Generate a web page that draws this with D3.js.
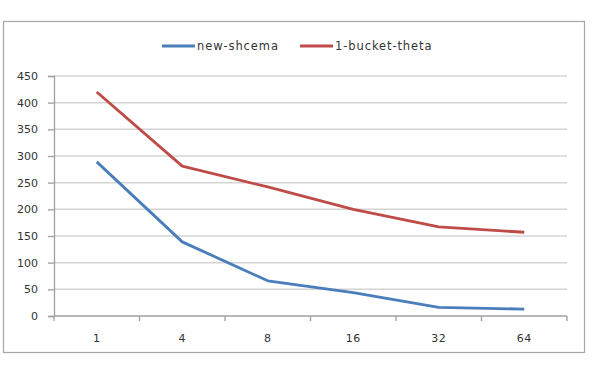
<!DOCTYPE html>
<html>
<head>
<meta charset="utf-8">
<script src="https://cdn.jsdelivr.net/npm/d3@7"></script>
<style>
    body { margin: 0; background: #fff; }
    text { font-family: "DejaVu Sans", Verdana, sans-serif; fill: #333; }
</style>
</head>
<body>
<div id="chart"></div>
<script>
var categories = ['1', '4', '8', '16', '32', '64'];
var newSchema = [289, 139, 66, 44, 16, 13];
var bucketTheta = [420, 281, 242, 200, 167, 157];
var yTicks = [0, 50, 100, 150, 200, 250, 300, 350, 400, 450];
var seriesNames = ['new-shcema', '1-bucket-theta'];
var seriesColors = ['#4a7ebb', '#be4b48'];

var width = 592, height = 366;
var plot = { left: 54, right: 567, top: 76, bottom: 316 };

var svg = d3.select('#chart')
    .append('svg')
    .attr('width', width)
    .attr('height', height);

// outer frame
svg.append('rect')
    .attr('x', 3.5)
    .attr('y', 21.5)
    .attr('width', 581)
    .attr('height', 331)
    .attr('fill', '#fff')
    .attr('stroke', '#a6a6a6')
    .attr('stroke-width', 1.2);

var x = d3.scaleBand()
    .domain(categories)
    .range([plot.left, plot.right]);

var y = d3.scaleLinear()
    .domain([0, 450])
    .range([plot.bottom, plot.top]);

// gridlines
svg.append('g')
    .selectAll('line')
    .data(yTicks.filter(d => d > 0))
    .join('line')
    .attr('x1', plot.left)
    .attr('x2', plot.right)
    .attr('y1', d => y(d))
    .attr('y2', d => y(d))
    .attr('stroke', '#d4d4d4')
    .attr('stroke-width', 1.5);

// y axis
var yAxis = svg.append('g')
    .attr('transform', 'translate(' + plot.left + ',0)')
    .call(d3.axisLeft(y).tickValues(yTicks).tickSize(6).tickPadding(10));
yAxis.select('.domain').attr('stroke', '#a0a0a0').attr('stroke-width', 1.3);
yAxis.selectAll('.tick line').attr('stroke', '#a0a0a0').attr('stroke-width', 1.3);
yAxis.selectAll('.tick text')
    .attr('font-size', 11)
    .attr('fill', '#333')
    .style('font-family', '"DejaVu Sans", Verdana, sans-serif');

// x axis (ticks between categories)
var xg = svg.append('g');
xg.append('line')
    .attr('x1', plot.left)
    .attr('x2', plot.right)
    .attr('y1', plot.bottom)
    .attr('y2', plot.bottom)
    .attr('stroke', '#a0a0a0')
    .attr('stroke-width', 1.3);

var edges = categories.map(c => x(c)).concat([x(categories[categories.length - 1]) + x.bandwidth()]);
xg.selectAll('line.tk')
    .data(edges)
    .join('line')
    .attr('class', 'tk')
    .attr('x1', d => d)
    .attr('x2', d => d)
    .attr('y1', plot.bottom)
    .attr('y2', plot.bottom + 5)
    .attr('stroke', '#a0a0a0')
    .attr('stroke-width', 1.3);

xg.selectAll('text')
    .data(categories)
    .join('text')
    .attr('x', d => x(d) + x.bandwidth() / 2)
    .attr('y', 342)
    .attr('text-anchor', 'middle')
    .attr('font-size', 11)
    .attr('letter-spacing', 0.5)
    .text(d => d);

// lines
var line = d3.line()
    .x((d, i) => x(categories[i]) + x.bandwidth() / 2)
    .y(d => y(d));

[newSchema, bucketTheta].forEach(function (values, i) {
    svg.append('path')
        .datum(values)
        .attr('d', line)
        .attr('fill', 'none')
        .attr('stroke', seriesColors[i])
        .attr('stroke-width', 2.8)
        .attr('stroke-linejoin', 'round');
});

// legend
var legendX = [162, 300];
var legend = svg.append('g');
seriesNames.forEach(function (name, i) {
    legend.append('line')
        .attr('x1', legendX[i])
        .attr('x2', legendX[i] + 33)
        .attr('y1', 46)
        .attr('y2', 46)
        .attr('stroke', seriesColors[i])
        .attr('stroke-width', 3);
    legend.append('text')
        .attr('x', legendX[i] + 35)
        .attr('y', 50)
        .attr('font-size', 11.5)
        .attr('letter-spacing', 0.9)
        .text(name);
});
</script>
</body>
</html>
